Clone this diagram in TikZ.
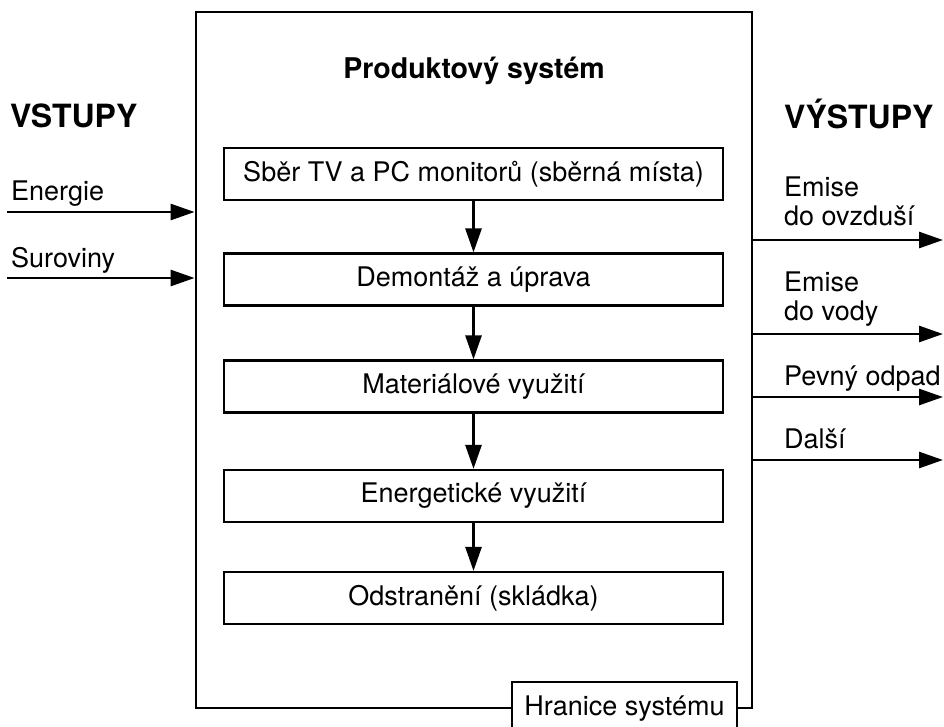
\documentclass[tikz,border=0pt]{standalone}
\usepackage{fontspec}
\setmainfont{TeX Gyre Heros}
\usetikzlibrary{arrows.meta}
\begin{document}
\begin{tikzpicture}[x=1pt,y=-1pt,
  every node/.style={inner sep=0pt, font=\fontsize{27}{29}\selectfont},
  stagebox/.style={draw, line width=2.2pt, minimum width=499pt, minimum height=52pt},
  arr/.style={line width=2.7pt, -{Triangle[length=24pt,width=16pt]}},
  head/.style={font=\fontsize{32}{36}\selectfont\bfseries},
  lbl/.style={anchor=base west, align=left}]
\useasboundingbox (0,0) rectangle (944,726);
% system boundary
\node[draw, line width=2.8pt, minimum width=556pt, minimum height=696pt] (sys) at (474,360) {};
\node[draw, fill=white, line width=2.2pt, minimum width=225pt, text height=33pt, text depth=20pt, anchor=base] (hr) at (624.5,715) {Hranice systému};
% title and headings
\node[font=\fontsize{28.5}{32}\selectfont\bfseries, anchor=base] (title) at (474,78) {Produktový systém};
\node[head, anchor=base west] (vst) at (10,127) {VSTUPY};
\node[head, anchor=base west] (vyst) at (784,128) {VÝSTUPY};
% stages
\node[stagebox] (b1) at (473.5,174) {Sběr TV a PC monitorů (sběrná místa)};
\node[stagebox] (b2) at (473.5,279.5) {Demontáž a úprava};
\node[stagebox] (b3) at (473.5,386.5) {Materiálové využití};
\node[stagebox] (b4) at (473.5,496) {Energetické využití};
\node[stagebox] (b5) at (473.5,598) {Odstranění (skládka)};
\draw[arr] (b1) -- (b2);
\draw[arr] (b2) -- (b3);
\draw[arr] (b3) -- (b4);
\draw[arr] (b4) -- (b5);
% inputs
\coordinate (i1) at (7,212);
\coordinate (i2) at (7,278);
\draw[arr] (i1) -- (i1 -| sys.west);
\draw[arr] (i2) -- (i2 -| sys.west);
\node[lbl] (li1) at (11,200) {Energie};
\node[lbl] (li2) at (11,267) {Suroviny};
% outputs
\coordinate (o1) at (943,240);
\coordinate (o2) at (943,334);
\coordinate (o3) at (943,397);
\coordinate (o4) at (943,460);
\draw[arr] (sys.east |- o1) -- (o1);
\draw[arr] (sys.east |- o2) -- (o2);
\draw[arr] (sys.east |- o3) -- (o3);
\draw[arr] (sys.east |- o4) -- (o4);
\node[lbl] (lo1) at (784,225) {Emise\\do ovzduší};
\node[lbl] (lo2) at (784,320) {Emise\\do vody};
\node[lbl] (lo3) at (784,385) {Pevný odpad};
\node[lbl] (lo4) at (784,448) {Další};
\end{tikzpicture}
\end{document}
